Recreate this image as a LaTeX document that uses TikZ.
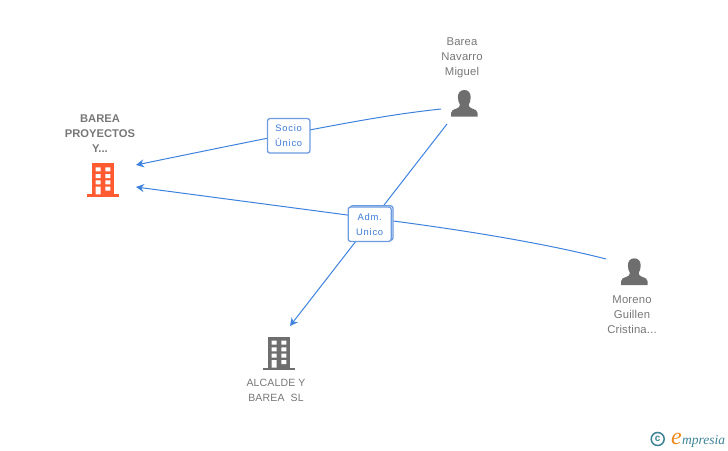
\documentclass[tikz,border=0pt]{standalone}
\usepackage{fontspec}
\setmainfont{Liberation Sans}
\newfontfamily\lblfont[LetterSpace=8]{Liberation Sans}
\newfontfamily\capfont[LetterSpace=1.5]{Liberation Sans}
\newfontfamily\logofont{Liberation Serif}
\definecolor{linkblue}{HTML}{3F82DE}
\definecolor{boxblue}{HTML}{6C9BE0}
\definecolor{labelblue}{HTML}{3D7BD9}
\definecolor{icongray}{HTML}{6E6E6E}
\definecolor{textgray}{HTML}{777777}
\definecolor{iconorange}{HTML}{FF5A30}
\definecolor{logoteal}{HTML}{3E8296}
\definecolor{logoorange}{HTML}{F08A1D}
\usetikzlibrary{arrows.meta}
\tikzset{
  x=1pt,y=-1pt,
  link/.style={draw=linkblue,line width=1pt,-{Stealth[length=8pt,width=8pt]}},
  relbox/.style={draw=boxblue,line width=1.3pt,fill=white,rounded corners=2.5pt,minimum width=42.5pt,minimum height=34.5pt,inner sep=0pt,align=center,text=labelblue,font=\lblfont\fontsize{9.4}{15}\selectfont},
  caption/.style={align=center,text=textgray,inner sep=0pt,font=\capfont\fontsize{11.3}{15}\selectfont},
  captionb/.style={caption,font=\bfseries\fontsize{11.2}{15}\selectfont},
  captions/.style={caption,font=\capfont\fontsize{10.5}{15}\selectfont},
  building/.pic={
    \fill[pic actions] (-16,31) rectangle (15.7,33.7);
    \fill[pic actions] (-11,0) rectangle (11,31);
    \fill[white] (-7.6,4) rectangle (-2.6,8) (2,4) rectangle (7,8)
      (-7.6,10.7) rectangle (-2.6,14.7) (2,10.7) rectangle (7,14.7)
      (-7.6,17) rectangle (-2.6,21) (2,17) rectangle (7,21)
      (-7.6,23.4) rectangle (-2.6,31) (2,23.4) rectangle (7,27.4);
  },
  person/.pic={
    \fill[pic actions] (0,0) .. controls (-4.6,0) and (-6.4,3.4) .. (-6.4,7.5)
      .. controls (-6.4,10.5) and (-5.4,13) .. (-4.4,14.6)
      .. controls (-4.4,16.6) and (-5.4,17.6) .. (-7.5,18.4)
      .. controls (-11,19.8) and (-13.3,20.4) .. (-13.3,23) -- (-13.3,26.7) -- (13.3,26.7) -- (13.3,23)
      .. controls (13.3,20.4) and (11,19.8) .. (7.5,18.4)
      .. controls (5.4,17.6) and (4.4,16.6) .. (4.4,14.6)
      .. controls (5.4,13) and (6.4,10.5) .. (6.4,7.5)
      .. controls (6.4,3.4) and (4.6,0) .. (0,0) -- cycle;
  }
}
\begin{document}
\begin{tikzpicture}
\useasboundingbox (0,0) rectangle (728,450);
% anchor coordinates
\coordinate (sBarea) at (441,109);
\coordinate (sBareaB) at (447,124);
\coordinate (sMoreno) at (606,259);
\coordinate (tProy1) at (136,165);
\coordinate (tProy2) at (136,187);
\coordinate (tAlc) at (290,326);
% connectors
\draw[link] (sBarea) .. controls (385,115) and (330,125) .. (tProy1);
\draw[link] (sMoreno) .. controls (540,242) and (450,228) .. (370,218) -- (tProy2);
\draw[link] (sBareaB) -- (tAlc);
% relation boxes
\node[relbox] (socio) at (288.7,135.8) {Socio\\Único};
\node[relbox,minimum width=43pt] (admback) at (371.5,223) {};
\node[relbox,minimum width=43pt] (adm) at (369.7,224.2) {Adm.\\Unico};
% icons
\begin{scope}[shift={(103.3,163.3)}]
  \pic[fill=iconorange] {building};
\end{scope}
\begin{scope}[shift={(279.3,336.7)}]
  \pic[fill=icongray] {building};
\end{scope}
\begin{scope}[shift={(464.3,90)}]
  \pic[fill=icongray] {person};
\end{scope}
\begin{scope}[shift={(634.3,258.3)}]
  \pic[fill=icongray] {person};
\end{scope}
% captions
\node[captionb] (proy) at (100,134) {BAREA\\PROYECTOS\\Y...};
\node[caption] (barea) at (462,57.5) {Barea\\Navarro\\Miguel};
\node[caption] (moreno) at (632,315) {Moreno\\Guillen\\Cristina...};
\node[captions] (alc) at (276,390) {ALCALDE Y\\BAREA\ \ SL};
% logo
\node[circle,draw=logoteal,line width=1.5pt,minimum size=13pt,inner sep=0pt,text=logoteal,font=\bfseries\fontsize{10}{10}\selectfont] (copy) at (657.7,439) {c};
\node[anchor=base west,inner sep=0pt,text=logoorange,font=\logofont\itshape\fontsize{24}{24}\selectfont] (loge) at (671,444) {e};
\node[anchor=base west,inner sep=0pt,text=logoteal,font=\logofont\itshape\fontsize{13.5}{14}\selectfont] (logt) at (682,444) {mpresia};
\end{tikzpicture}
\end{document}
